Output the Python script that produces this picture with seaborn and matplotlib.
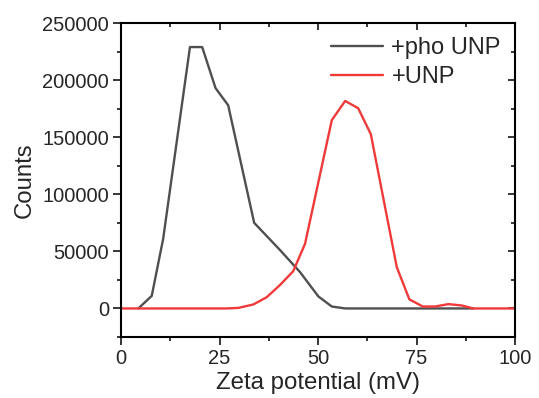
import pandas as pd
import matplotlib
matplotlib.use("Agg")
import matplotlib.pyplot as plt
import seaborn as sns
from matplotlib.ticker import MultipleLocator

# zeta potential distributions
pho_x = [4.4, 7.8, 10.7, 17.5, 20.6, 24.0, 27.2, 33.8, 40.4, 45.4, 50.1, 53.5, 56.9, 89.4]
pho_y = [0, 11000, 61000, 229000, 229000, 193000, 178000, 75000, 51000, 32000, 10500, 1700, 0, 0]

unp_x = [0, 26.8, 29.8, 33.6, 37.0, 40.4, 43.7, 46.7, 53.5, 56.9, 60.2, 63.4, 70.0, 73.2,
         76.6, 79.7, 83.1, 86.5, 89.4, 100]
unp_y = [0, 0, 500, 3500, 9900, 20700, 32600, 56500, 165000, 181800, 175400, 152700, 36100, 7900,
         1700, 1700, 3800, 2600, 0, 0]

labels = ["+pho UNP", "+UNP"]
colors = ["#4f4f4f", "#f03a3a"]

df = pd.concat([
    pd.DataFrame({"x": pho_x, "y": pho_y, "sample": labels[0]}),
    pd.DataFrame({"x": unp_x, "y": unp_y, "sample": labels[1]}),
])

sns.set_style("ticks")
plt.rcParams["font.family"] = ["Liberation Sans", "DejaVu Sans"]

fig = plt.figure(figsize=(5.39, 3.98), dpi=100)
ax = fig.add_axes([0.2245, 0.1533, 0.731, 0.7887])

sns.lineplot(data=df, x="x", y="y", hue="sample", palette=colors, linewidth=1.7,
             sort=False, estimator=None, ax=ax)

ax.set_xlim(0, 100)
ax.set_ylim(-25000, 250000)
ax.xaxis.set_major_locator(MultipleLocator(25))
ax.xaxis.set_minor_locator(MultipleLocator(12.5))
ax.yaxis.set_major_locator(MultipleLocator(50000))
ax.yaxis.set_minor_locator(MultipleLocator(25000))
ax.set_yticks([0, 50000, 100000, 150000, 200000, 250000])

for s in ax.spines.values():
    s.set_visible(True)
    s.set_linewidth(1.5)
    s.set_color("black")

ax.tick_params(which="both", direction="out", width=1.3, labelsize=14.5, top=False, right=False,
               pad=3)
ax.tick_params(which="major", length=5.5)
ax.tick_params(which="minor", length=3)

# inward ticks on top and right
sec_x = ax.secondary_xaxis("top")
sec_x.xaxis.set_major_locator(MultipleLocator(25))
sec_x.xaxis.set_minor_locator(MultipleLocator(12.5))
sec_x.tick_params(which="both", direction="in", labeltop=False, width=1.3)
sec_x.tick_params(which="major", length=5)
sec_x.tick_params(which="minor", length=3)
sec_x.spines["top"].set_visible(False)
sec_y = ax.secondary_yaxis("right")
sec_y.yaxis.set_major_locator(MultipleLocator(50000))
sec_y.yaxis.set_minor_locator(MultipleLocator(25000))
sec_y.tick_params(which="both", direction="in", labelright=False, width=1.3)
sec_y.tick_params(which="major", length=5)
sec_y.tick_params(which="minor", length=3)
sec_y.spines["right"].set_visible(False)

ax.set_xlabel("Zeta potential (mV)", fontsize=17.3, labelpad=3)
ax.set_ylabel("Counts", fontsize=17.3, labelpad=5)

ax.legend(title=None, frameon=False, loc="upper right", fontsize=17, handlelength=2.2,
          handletextpad=0.35, labelspacing=0.3, borderaxespad=0.2)

fig.savefig("out.png", dpi=100)
